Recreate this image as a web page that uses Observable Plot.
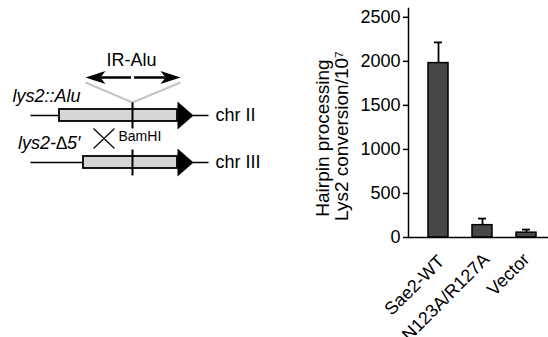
<!DOCTYPE html>
<html><head><meta charset="utf-8">
<script src="https://cdn.jsdelivr.net/npm/d3@7"></script>
<script src="https://cdn.jsdelivr.net/npm/@observablehq/plot@0.6"></script>
<style>
body{margin:0;background:#fff;}
#fig{display:flex;width:548px;height:337px;}
#fig svg{background:transparent;flex:none;}
</style></head><body><div id="fig"></div>
<script>
// ---- bar chart data ----
const categories = ["Sae2-WT", "N123A/R127A", "Vector"];
const means = [1980, 140, 55];
const errorTops = [2215, 215, 90];
const yTicks = [0, 500, 1000, 1500, 2000, 2500];
const yLabelLines = ["Hairpin processing", "Lys2 conversion/10\u2077"];

// ---- schematic (left panel) ----
const chromosomes = [
  {name: "chr II", allele: "lys2::Alu", y: 115, boxStart: 59},
  {name: "chr III", allele: "lys2-\u22065\u2032", y: 162, boxStart: 83}
];
const siteLabel = "BamHI";
const insertLabel = "IR-Alu";

const font = "'Liberation Sans', Arial, Helvetica, sans-serif";
const data = categories.map((c, i) => ({cat: c, mean: means[i], err: errorTops[i]}));
const labelNudge = [3, 4, 0];
const labelDy = [21, 19, 19];

// schematic geometry
const geneEnd = 177, tipX = 193, siteX = 132, lineStart = 30, lineEnd = 208;
const chrLines = chromosomes.map(c => ({x1: lineStart, x2: lineEnd, y1: c.y, y2: c.y}));
const boxes = chromosomes.map(c => ({x1: c.boxStart, x2: geneEnd, y1: c.y - 6, y2: c.y + 6}));
const heads = chromosomes.flatMap((c, i) => [
  {id: "g" + i, x: geneEnd, y: c.y - 14}, {id: "g" + i, x: tipX, y: c.y}, {id: "g" + i, x: geneEnd, y: c.y + 14}
]);
const siteLines = chromosomes.map(c => ({x1: siteX, x2: siteX, y1: c.y - 13, y2: c.y + 13}));
const arrowY = 77, leftTip = 85, rightTip = 180;
const dblHeads = [
  {id: "L", x: leftTip, y: arrowY}, {id: "L", x: leftTip + 20, y: arrowY - 6.5}, {id: "L", x: leftTip + 15, y: arrowY}, {id: "L", x: leftTip + 20, y: arrowY + 6.5},
  {id: "R", x: rightTip, y: arrowY}, {id: "R", x: rightTip - 20, y: arrowY - 6.5}, {id: "R", x: rightTip - 15, y: arrowY}, {id: "R", x: rightTip - 20, y: arrowY + 6.5}
];
const shafts = [
  {x1: leftTip + 15, x2: siteX - 1.5, y1: arrowY, y2: arrowY},
  {x1: siteX + 1.5, x2: rightTip - 15, y1: arrowY, y2: arrowY}
];
const vLines = [
  {x1: leftTip, y1: 82, x2: siteX, y2: 102},
  {x1: rightTip, y1: 82, x2: siteX, y2: 102}
];
const cross = [
  {x1: 93, y1: 128, x2: 114, y2: 148},
  {x1: 93, y1: 148, x2: 114, y2: 128}
];

const diagram = Plot.plot({
  width: 300, height: 337, margin: 0,
  style: {fontFamily: font, background: "transparent", color: "black"},
  x: {domain: [0, 300], range: [0, 300], axis: null},
  y: {domain: [0, 337], range: [0, 337], axis: null},
  marks: [
    Plot.link(vLines, {x1: "x1", y1: "y1", x2: "x2", y2: "y2", stroke: "#c4c4c4", strokeWidth: 2}),
    Plot.link(chrLines, {x1: "x1", y1: "y1", x2: "x2", y2: "y2", stroke: "black", strokeWidth: 1.5}),
    Plot.rect(boxes, {x1: "x1", x2: "x2", y1: "y1", y2: "y2", fill: "#d6d6d6", stroke: "black", strokeWidth: 1.8}),
    Plot.line(heads, {x: "x", y: "y", z: "id", fill: "black", stroke: "none"}),
    Plot.link(siteLines, {x1: "x1", y1: "y1", x2: "x2", y2: "y2", stroke: "black", strokeWidth: 2}),
    Plot.line(dblHeads, {x: "x", y: "y", z: "id", fill: "black", stroke: "none"}),
    Plot.link(shafts, {x1: "x1", y1: "y1", x2: "x2", y2: "y2", stroke: "black", strokeWidth: 2.5}),
    Plot.link(cross, {x1: "x1", y1: "y1", x2: "x2", y2: "y2", stroke: "black", strokeWidth: 1.2}),
    Plot.text([insertLabel], {x: siteX - 1, y: 65, text: d => d, fontSize: 18, textAnchor: "middle", lineAnchor: "bottom"}),
    Plot.text([siteLabel], {x: 118, y: 140, text: d => d, fontSize: 14, textAnchor: "start", lineAnchor: "bottom"}),
    Plot.text(chromosomes, {x: 215, y: "y", text: "name", fontSize: 18, textAnchor: "start", lineAnchor: "middle"}),
    Plot.text(chromosomes, {x: 80, y: d => d.y - 14, text: "allele", fontSize: 18, fontStyle: "italic", textAnchor: "end", lineAnchor: "bottom"})
  ]
});

const chart = Plot.plot({
  width: 248, height: 337,
  marginLeft: 108, marginRight: 0, marginTop: 8, marginBottom: 100,
  style: {fontFamily: font, fontSize: "18px", background: "transparent", color: "black"},
  x: {type: "band", domain: categories, paddingInner: 0.545, paddingOuter: 0.27, insetLeft: 8, axis: null},
  y: {domain: [0, 2600], axis: null},
  marks: [
    Plot.ruleX(data, {x: "cat", y1: "mean", y2: "err", stroke: "black", strokeWidth: 1.8}),
    Plot.tickY(data, {x: "cat", y: "err", insetLeft: 6, insetRight: 6, stroke: "black", strokeWidth: 1.8}),
    Plot.barY(data, {x: "cat", y: "mean", fill: "#474747", stroke: "black", strokeWidth: 1.5}),
    Plot.frame({anchor: "left", stroke: "black", strokeWidth: 1.5}),
    Plot.frame({anchor: "bottom", stroke: "black", strokeWidth: 1.5}),
    Plot.axisY({ticks: yTicks, tickSize: 5, tickPadding: 3, fontSize: 18, label: null, tickFormat: d => String(d), strokeWidth: 1.5}),
    ...categories.map((c, i) => Plot.text([c], {x: d => d, text: d => d, frameAnchor: "bottom", rotate: -45, textAnchor: "end", lineAnchor: "middle", dx: labelNudge[i], dy: labelDy[i], fontSize: 18})),
    Plot.text([yLabelLines[0]], {text: d => d, frameAnchor: "left", rotate: -90, textAnchor: "middle", lineAnchor: "middle", dx: -85.5, dy: 15, fontSize: 19}),
    Plot.text([yLabelLines[1]], {text: d => d, frameAnchor: "left", rotate: -90, textAnchor: "middle", lineAnchor: "middle", dx: -66.5, dy: 13, fontSize: 19})
  ]
});

const fig = document.getElementById("fig");
fig.appendChild(diagram);
fig.appendChild(chart);
</script></body></html>
